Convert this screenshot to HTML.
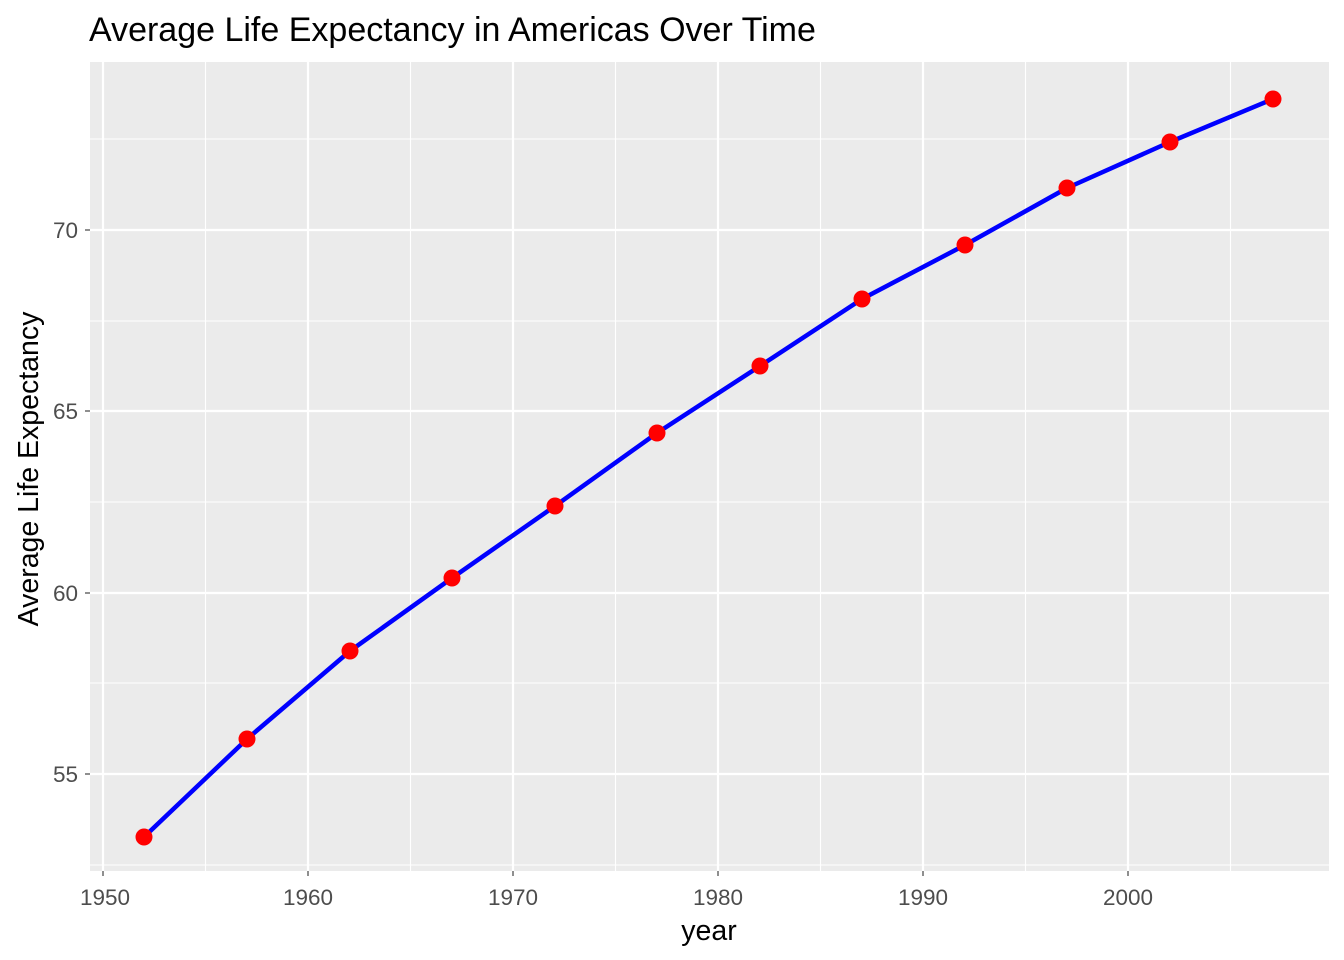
<!DOCTYPE html>
<html><head><meta charset="utf-8"><style>body{margin:0;background:#fff}svg{display:block}</style></head><body>
<svg width="1344" height="960" viewBox="0 0 1344 960" xmlns="http://www.w3.org/2000/svg" font-family="Liberation Sans, sans-serif">
<rect width="1344" height="960" fill="#fff"/>
<rect x="90" y="62" width="1239" height="809" fill="#EBEBEB"/>
<g stroke="#fff" stroke-width="1.1">
<line x1="205.5" y1="62" x2="205.5" y2="871"/><line x1="410.5" y1="62" x2="410.5" y2="871"/><line x1="615.5" y1="62" x2="615.5" y2="871"/><line x1="820.5" y1="62" x2="820.5" y2="871"/><line x1="1025.5" y1="62" x2="1025.5" y2="871"/><line x1="1230.5" y1="62" x2="1230.5" y2="871"/>
<line x1="90" y1="139" x2="1329" y2="139"/><line x1="90" y1="321" x2="1329" y2="321"/><line x1="90" y1="502" x2="1329" y2="502"/><line x1="90" y1="683" x2="1329" y2="683"/><line x1="90" y1="865" x2="1329" y2="865"/>
</g>
<g stroke="#fff" stroke-width="2.2">
<line x1="103" y1="62" x2="103" y2="871"/><line x1="308" y1="62" x2="308" y2="871"/><line x1="513" y1="62" x2="513" y2="871"/><line x1="718" y1="62" x2="718" y2="871"/><line x1="923" y1="62" x2="923" y2="871"/><line x1="1128" y1="62" x2="1128" y2="871"/>
<line x1="90" y1="230" x2="1329" y2="230"/><line x1="90" y1="411" x2="1329" y2="411"/><line x1="90" y1="593" x2="1329" y2="593"/><line x1="90" y1="774" x2="1329" y2="774"/>
</g>
<g stroke="#333" stroke-width="1.1">
<line x1="103" y1="871" x2="103" y2="876"/><line x1="308" y1="871" x2="308" y2="876"/><line x1="513" y1="871" x2="513" y2="876"/><line x1="718" y1="871" x2="718" y2="876"/><line x1="923" y1="871" x2="923" y2="876"/><line x1="1128" y1="871" x2="1128" y2="876"/>
<line x1="85" y1="230" x2="90" y2="230"/><line x1="85" y1="411" x2="90" y2="411"/><line x1="85" y1="593" x2="90" y2="593"/><line x1="85" y1="774" x2="90" y2="774"/>
</g>
<polyline fill="none" stroke="#0000FF" stroke-width="4.5" stroke-linejoin="round" points="144,837 247,739 350,651 452,578 555,506 657,433 760,366 862,299 965,245 1067,188 1170,142 1273,99"/>
<g fill="#FF0000">
<circle cx="144" cy="837" r="8.5"/><circle cx="247" cy="739" r="8.5"/><circle cx="350" cy="651" r="8.5"/><circle cx="452" cy="578" r="8.5"/><circle cx="555" cy="506" r="8.5"/><circle cx="657" cy="433" r="8.5"/><circle cx="760" cy="366" r="8.5"/><circle cx="862" cy="299" r="8.5"/><circle cx="965" cy="245" r="8.5"/><circle cx="1067" cy="188" r="8.5"/><circle cx="1170" cy="142" r="8.5"/><circle cx="1273" cy="99" r="8.5"/>
</g>
<g fill="#4D4D4D" font-size="22.5" text-anchor="middle">
<text x="105" y="905">1950</text><text x="308" y="905">1960</text><text x="513" y="905">1970</text><text x="718" y="905">1980</text><text x="923" y="905">1990</text><text x="1128" y="905">2000</text>
</g>
<g fill="#4D4D4D" font-size="22.5" text-anchor="end">
<text x="78" y="238">70</text><text x="78" y="419">65</text><text x="78" y="601">60</text><text x="78" y="782">55</text>
</g>
<text x="709" y="940" font-size="28.5" text-anchor="middle" fill="#000">year</text>
<text transform="translate(38,469) rotate(-90)" font-size="28.5" text-anchor="middle" fill="#000">Average Life Expectancy</text>
<text x="89" y="41" font-size="34" fill="#000">Average Life Expectancy in Americas Over Time</text>
</svg>
</body></html>
